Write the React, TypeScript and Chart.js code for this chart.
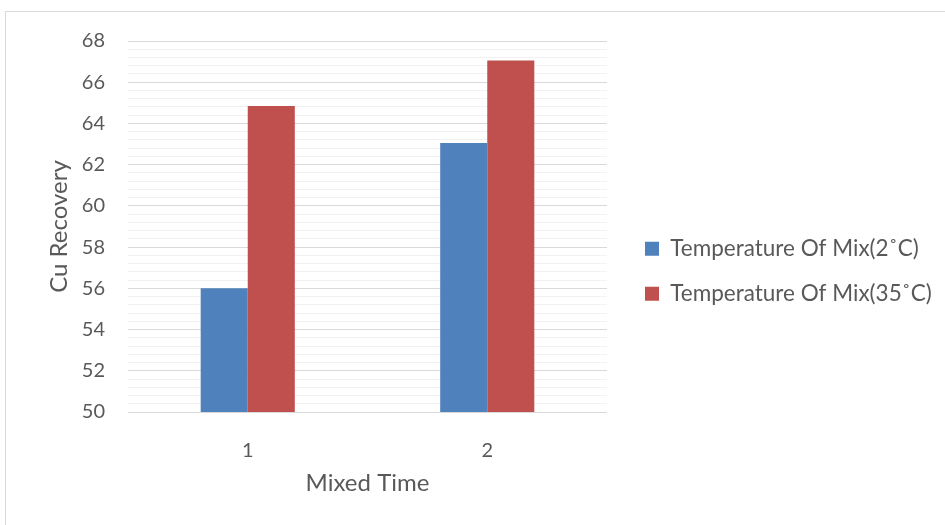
import React, { useEffect, useRef } from 'react';
import { Chart, registerables } from 'chart.js';

Chart.register(...registerables);

const categories = ['1', '2'];
const series2C = [56.0, 63.05];
const series35C = [64.85, 67.05];
const seriesLabels = ['Temperature Of Mix(2˚C)', 'Temperature Of Mix(35˚C)'];
const seriesColors = ['#4F81BD', '#C0504D'];
const yMin = 50;
const yMax = 68;
const yMajorStep = 2;
const yMinorStep = 0.4;
const xTitle = 'Mixed Time';
const yTitle = 'Cu Recovery';

const FONT = 'Lato, "Open Sans", sans-serif';
const TEXT = '#595959';
const W = 945;
const H = 525;
const LEG_FONT = 22.5;
const LEG_PAD = 22.5;

const isMajor = (v: number) => Math.abs(v / yMajorStep - Math.round(v / yMajorStep)) < 1e-6;

const legendPlacer = {
  id: 'legendPlacer',
  beforeLayout(chart: any) {
    const lg = chart.legend;
    if (lg && !lg.__patched) {
      const orig = lg.fit.bind(lg);
      lg.fit = function () {
        orig();
        this.width = W - 607;
      };
      lg.__patched = true;
    }
  },
  afterLayout(chart: any) {
    const lg = chart.legend;
    if (!lg) return;
    const w = lg.width;
    const h = lg.height;
    lg.left = 645 - LEG_PAD;
    lg.right = lg.left + w;
    lg.top = 215;
    lg.bottom = lg.top + h;
  },
};

export default function App() {
  const ref = useRef<HTMLCanvasElement | null>(null);

  useEffect(() => {
    if (!ref.current) return;
    const chart = new Chart(ref.current, {
      type: 'bar',
      data: {
        labels: categories,
        datasets: [
          {
            label: seriesLabels[0],
            data: series2C,
            backgroundColor: seriesColors[0],
            borderWidth: 0,
            categoryPercentage: 0.393,
            barPercentage: 1,
          },
          {
            label: seriesLabels[1],
            data: series35C,
            backgroundColor: seriesColors[1],
            borderWidth: 0,
            categoryPercentage: 0.393,
            barPercentage: 1,
          },
        ],
      },
      options: {
        animation: false,
        responsive: false,
        devicePixelRatio: 1,
        layout: { padding: { left: 11, top: 41, right: 0, bottom: 20 } },
        plugins: {
          tooltip: { enabled: false },
          legend: {
            position: 'right',
            align: 'start',
            labels: {
              boxWidth: 14,
              boxHeight: 14,
              padding: LEG_PAD,
              color: TEXT,
              font: { family: FONT, size: LEG_FONT, lineHeight: 1 },
            },
          },
        },
        scales: {
          x: {
            grid: { display: false },
            border: { display: false },
            ticks: {
              color: TEXT,
              font: { family: FONT, size: 20, lineHeight: 1.2 },
              padding: 19,
            },
            title: {
              display: true,
              text: xTitle,
              color: TEXT,
              font: { family: FONT, size: 24, lineHeight: 1.2 },
              padding: { top: 0, bottom: 7 },
            },
            afterFit: (s: any) => {
              s.height = H - 20 - 412;
            },
          },
          y: {
            min: yMin,
            max: yMax,
            border: { display: false },
            grid: {
              drawTicks: false,
              color: (ctx: any) => (isMajor(ctx.tick.value) ? '#d9d9d9' : '#f2f2f2'),
              lineWidth: 1,
            },
            ticks: {
              stepSize: yMinorStep,
              autoSkip: false,
              color: TEXT,
              font: { family: FONT, size: 20 },
              padding: 23,
              callback: (v: any) => (isMajor(Number(v)) ? String(Math.round(Number(v))) : ''),
            },
            title: {
              display: true,
              text: yTitle,
              color: TEXT,
              font: { family: FONT, size: 24, lineHeight: 1.2 },
              padding: { top: 34, bottom: 0 },
            },
            afterFit: (s: any) => {
              s.width = 128 - 11;
            },
          },
        },
      },
      plugins: [legendPlacer],
    });
    return () => chart.destroy();
  }, []);

  return (
    <div style={{ position: 'absolute', left: 0, top: 0, width: W, height: H, overflow: 'hidden', background: '#fff' }}>
      <div
        style={{
          position: 'absolute',
          left: 5,
          top: 11,
          width: W + 10,
          height: H + 10,
          border: '1px solid #d9d9d9',
          boxSizing: 'border-box',
        }}
      />
      <canvas ref={ref} width={W} height={H} style={{ position: 'absolute', left: 0, top: 0, width: W, height: H }} />
    </div>
  );
}
